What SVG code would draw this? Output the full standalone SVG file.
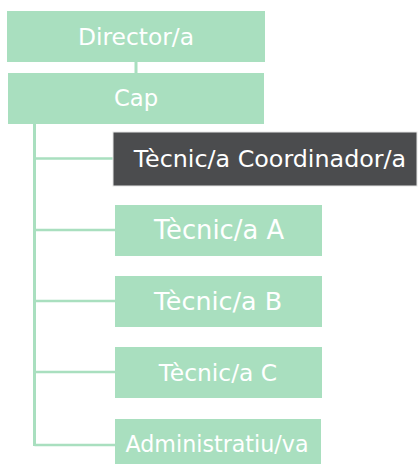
<svg xmlns="http://www.w3.org/2000/svg" width="419" height="464" viewBox="0 0 419 464">
<style>
.g{fill:#a9dfbf}
.d{fill:#4b4c4e;stroke:#e6e6e6;stroke-width:1}
.t{font-family:"DejaVu Sans","Open Sans",sans-serif;fill:#ffffff;text-anchor:middle}
.c{stroke:#a9dfbf;fill:none}
</style>
<rect width="419" height="464" fill="#ffffff"/>
<g id="connectors">
<line class="c" x1="136" y1="62" x2="136" y2="73" stroke-width="3"/>
<line class="c" x1="34.5" y1="124" x2="34.5" y2="446" stroke-width="3"/>
<line class="c" x1="34.5" y1="158.5" x2="113" y2="158.5" stroke-width="2.5"/>
<line class="c" x1="34.5" y1="230" x2="115" y2="230" stroke-width="2.5"/>
<line class="c" x1="34.5" y1="301" x2="115" y2="301" stroke-width="2.5"/>
<line class="c" x1="34.5" y1="372" x2="115" y2="372" stroke-width="2.5"/>
<line class="c" x1="34.5" y1="445" x2="115" y2="445" stroke-width="2.5"/>
</g>
<g id="director">
<rect class="g" x="7" y="11" width="258" height="51"/>
<text class="t" x="136" y="45" font-size="23.4">Director/a</text>
</g>
<g id="cap">
<rect class="g" x="8" y="73" width="256" height="51"/>
<text class="t" x="136" y="106" font-size="22.7">Cap</text>
</g>
<g id="coordinador">
<rect class="d" x="113" y="132" width="304" height="54"/>
<text class="t" x="270" y="167" font-size="23.8">Tècnic/a Coordinador/a</text>
</g>
<g id="tecnicA">
<rect class="g" x="115" y="205" width="207" height="51"/>
<text class="t" x="219" y="239" font-size="25.8">Tècnic/a A</text>
</g>
<g id="tecnicB">
<rect class="g" x="115" y="276" width="207" height="51"/>
<text class="t" x="218" y="310" font-size="25.4">Tècnic/a B</text>
</g>
<g id="tecnicC">
<rect class="g" x="115" y="347" width="207" height="51"/>
<text class="t" x="218" y="381" font-size="23.4">Tècnic/a C</text>
</g>
<g id="administratiu">
<rect class="g" x="115" y="419" width="206" height="51"/>
<text class="t" x="217" y="452" font-size="22.2">Administratiu/va</text>
</g>
</svg>
